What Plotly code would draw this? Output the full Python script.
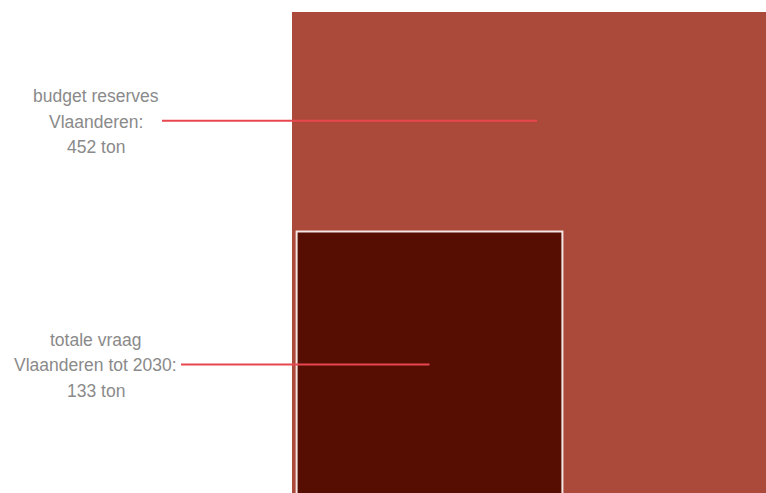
import math
import plotly.graph_objects as go

# Tonnages shown as nested squares (area proportional to value)
labels = [
    ["budget reserves", "Vlaanderen:", "452 ton"],
    ["totale vraag", "Vlaanderen tot 2030:", "133 ton"],
]
values = [452, 133]
fill_colors = ["#AB4A3B", "#560D02"]

W, H = 766, 493
big_side = math.sqrt(values[0])
small_side = math.sqrt(values[1])

px_per_unit = 490 / big_side      # pixel scale of one data unit
origin_x_px = 292                 # pixel column of x = 0
origin_y_px = 502                 # pixel row of y = 0 (just below the frame)
pad = 0.2                         # inset of the inner square

x_range = [-origin_x_px / px_per_unit, (W - origin_x_px) / px_per_unit]
y_range = [(origin_y_px - H) / px_per_unit, origin_y_px / px_per_unit]


def px_to_x(px):
    return (px - origin_x_px) / px_per_unit


fig = go.Figure()
fig.add_trace(go.Scatter(x=[None], y=[None], showlegend=False, hoverinfo="skip"))

# outer square
fig.add_shape(type="rect", x0=0, y0=0, x1=big_side, y1=big_side,
              fillcolor=fill_colors[0], line=dict(width=0), layer="below")
# inner square with a thin white outline
fig.add_shape(type="rect", x0=pad, y0=pad, x1=pad + small_side, y1=pad + small_side,
              fillcolor=fill_colors[1], line=dict(color="#F4E6E3", width=2), layer="below")

# leader lines: outer points into the area above the inner square,
# inner one to the centre of the inner square
anchors = [
    (big_side / 2, (small_side + big_side) / 2 + 0.15, px_to_x(162)),
    (pad + small_side / 2, pad + small_side / 2, px_to_x(181)),
]
label_x = 96 / W
for (cx, cy, start_x), lines in zip(anchors, labels):
    fig.add_shape(type="line", x0=start_x, y0=cy, x1=cx, y1=cy,
                  line=dict(color="#E8474F", width=2))
    for i, line in enumerate(lines):
        fig.add_annotation(x=label_x, xref="paper", y=cy, yref="y",
                           text=line, showarrow=False, xanchor="center",
                           yanchor="middle", yshift=(1 - i) * 25.5 - 1,
                           font=dict(family="Liberation Sans, Arial", size=17.5,
                                     color="#8A8A8A"))

fig.update_layout(
    width=W, height=H,
    margin=dict(l=0, r=0, t=0, b=0),
    paper_bgcolor="white", plot_bgcolor="white",
    xaxis=dict(range=x_range, visible=False, fixedrange=True),
    yaxis=dict(range=y_range, visible=False, fixedrange=True),
    showlegend=False,
)

fig.write_html("out.html")
